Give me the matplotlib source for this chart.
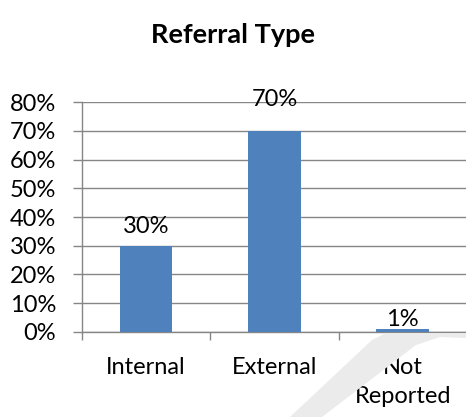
import matplotlib
matplotlib.use("Agg")
import matplotlib.pyplot as plt
from matplotlib.patches import Polygon
from matplotlib.ticker import FixedLocator, PercentFormatter

categories = ["Internal", "External", "Not\nReported"]
shares = [30, 70, 1]
yticks = [0, 10, 20, 30, 40, 50, 60, 70, 80]

bar_color = "#4F81BD"
grid_color = "#868686"
fsize = 17

plt.rcParams["font.family"] = ["Lato", "DejaVu Sans"]

W, H = 466, 417
fig = plt.figure(figsize=(W / 100, H / 100), dpi=100)

# faint swoosh behind the chart, given in pixels from the top-left corner
swoosh_px = [(290, 417), (372, 340), (386, 333), (466, 333), (466, 338),
             (440, 337), (416, 345), (322, 417)]
fig.patches.append(Polygon([(px / W, 1 - py / H) for px, py in swoosh_px],
                           closed=True, transform=fig.transFigure,
                           facecolor="#ebebeb", edgecolor="none", zorder=0))

ax = fig.add_axes([0.176, 0.204, 0.826, 0.551])
ax.set_facecolor("white")

x = range(len(categories))
ax.bar(x, shares, width=0.41, color=bar_color, zorder=3)

# data labels, nudged upward like the office chart
label_offsets = [6, 15, -1]
for xi, v, off in zip(x, shares, label_offsets):
    ax.annotate("%d%%" % v, (xi, v), xytext=(0, off), textcoords="offset points",
                ha="center", va="bottom", fontsize=fsize, color="black", zorder=4)

ax.set_xlim(-0.5, len(categories) - 0.5)
ax.set_ylim(0, 80)
ax.set_yticks(yticks)
ax.yaxis.set_major_formatter(PercentFormatter(decimals=0))
ax.yaxis.grid(True, color=grid_color, linewidth=1.0, zorder=0)

ax.set_xticks(list(x))
ax.set_xticklabels(categories, fontsize=fsize, linespacing=1.5, va="top")
ax.xaxis.set_minor_locator(FixedLocator([i - 0.5 for i in range(len(categories) + 1)]))
ax.tick_params(axis="x", which="major", length=0, pad=18)
ax.tick_params(axis="x", which="minor", length=6, color=grid_color, width=1.0)
ax.tick_params(axis="y", length=6.5, color=grid_color, width=1.0, labelsize=fsize, pad=12)

for side in ("top", "right"):
    ax.spines[side].set_visible(False)
for side in ("left", "bottom"):
    ax.spines[side].set_color(grid_color)
    ax.spines[side].set_linewidth(1.0)

fig.text(0.5, 0.915, "Referral Type", ha="center", va="center",
         fontsize=fsize + 2.5, fontweight="bold")

fig.savefig("out.png", dpi=100)
